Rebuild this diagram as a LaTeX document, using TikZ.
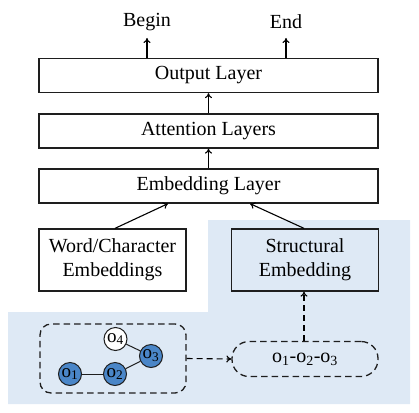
\documentclass[tikz,border=0pt]{standalone}
\usepackage{fontspec}
\setmainfont{Liberation Serif}
\usetikzlibrary{arrows.meta}
\definecolor{bgblue}{RGB}{222,233,245}
\definecolor{nodeblue}{RGB}{74,134,200}
\definecolor{linegray}{RGB}{30,30,30}
\begin{document}
\begin{tikzpicture}[x=1pt,y=-1pt,
  every node/.style={font=\fontsize{20}{24}\selectfont},
  layerbox/.style={draw=linegray,line width=1.3pt,minimum width=339pt,minimum height=34pt,inner sep=0pt},
  embbox/.style={draw=linegray,line width=1.3pt,minimum width=147pt,minimum height=62pt,inner sep=0pt,align=center},
  arr/.style={line width=1.1pt,-{To[length=5pt,width=7pt]}},
  darr/.style={line width=1.1pt,dash pattern=on 6pt off 4pt,-{To[length=5pt,width=7pt]}},
  dbox/.style={draw=linegray,line width=1.3pt,dash pattern=on 6.5pt off 4pt},
  obj/.style={circle,draw=linegray,line width=1pt,minimum size=23pt,inner sep=0pt,font=\fontsize{19}{20}\selectfont},
  bobj/.style={obj,fill=nodeblue},
  wobj/.style={obj,fill=white},
  lnk/.style={line width=1pt,draw=linegray}
]
\useasboundingbox (0,0) rectangle (419,412);
\fill[bgblue] (208,220) -- (410,220) -- (410,404) -- (8,404) -- (8,312) -- (208,312) -- cycle;

\node[layerbox] (out) at (208.5,75.5) {Output Layer};
\node[layerbox] (att) at (208.5,131) {Attention Layers};
\node[layerbox] (emb) at (208.5,186) {Embedding Layer};

\node[inner sep=0pt] (begin) at (147,22) {Begin};
\node[inner sep=0pt] (end) at (286,22) {End};
\coordinate (bt) at (147,38);
\coordinate (et) at (286,38);

\node[embbox] (word) at (112.5,260) {Word/Character\\Embeddings};
\node[embbox] (struct) at (305,260) {Structural\\Embedding};

\draw[arr] (out.north -| bt) -- (bt);
\draw[arr] (out.north -| et) -- (et);
\draw[arr] (att.north) -- (out.south);
\draw[arr] (emb.north) -- (att.south);
\draw[arr] (word.north -| 115,0) -- (emb.south -| 168,0);
\draw[arr] (struct.north -| 304,0) -- (emb.south -| 250,0);

\node[dbox,rounded corners=11pt,minimum width=146pt,minimum height=69pt] (graph) at (113,358.5) {};
\node[dbox,rounded corners=17pt,minimum width=146pt,minimum height=35pt,inner sep=0pt] (path) at (305,359) {o\textsubscript{1}-o\textsubscript{2}-o\textsubscript{3}};

\node[bobj] (o1) at (70,374) {o\textsubscript{1}};
\node[bobj] (o2) at (115,374) {o\textsubscript{2}};
\node[bobj] (o3) at (151,356) {o\textsubscript{3}};
\node[wobj] (o4) at (115.5,339) {o\textsubscript{4}};
\draw[lnk] (o1) -- (o2);
\draw[lnk] (o2) -- (o3);
\draw[lnk] (o4) -- (o3);

\draw[darr] (graph.east) -- (path.west);
\draw[darr] (path.north -| 304,0) -- (struct.south -| 304,0);
\end{tikzpicture}
\end{document}
